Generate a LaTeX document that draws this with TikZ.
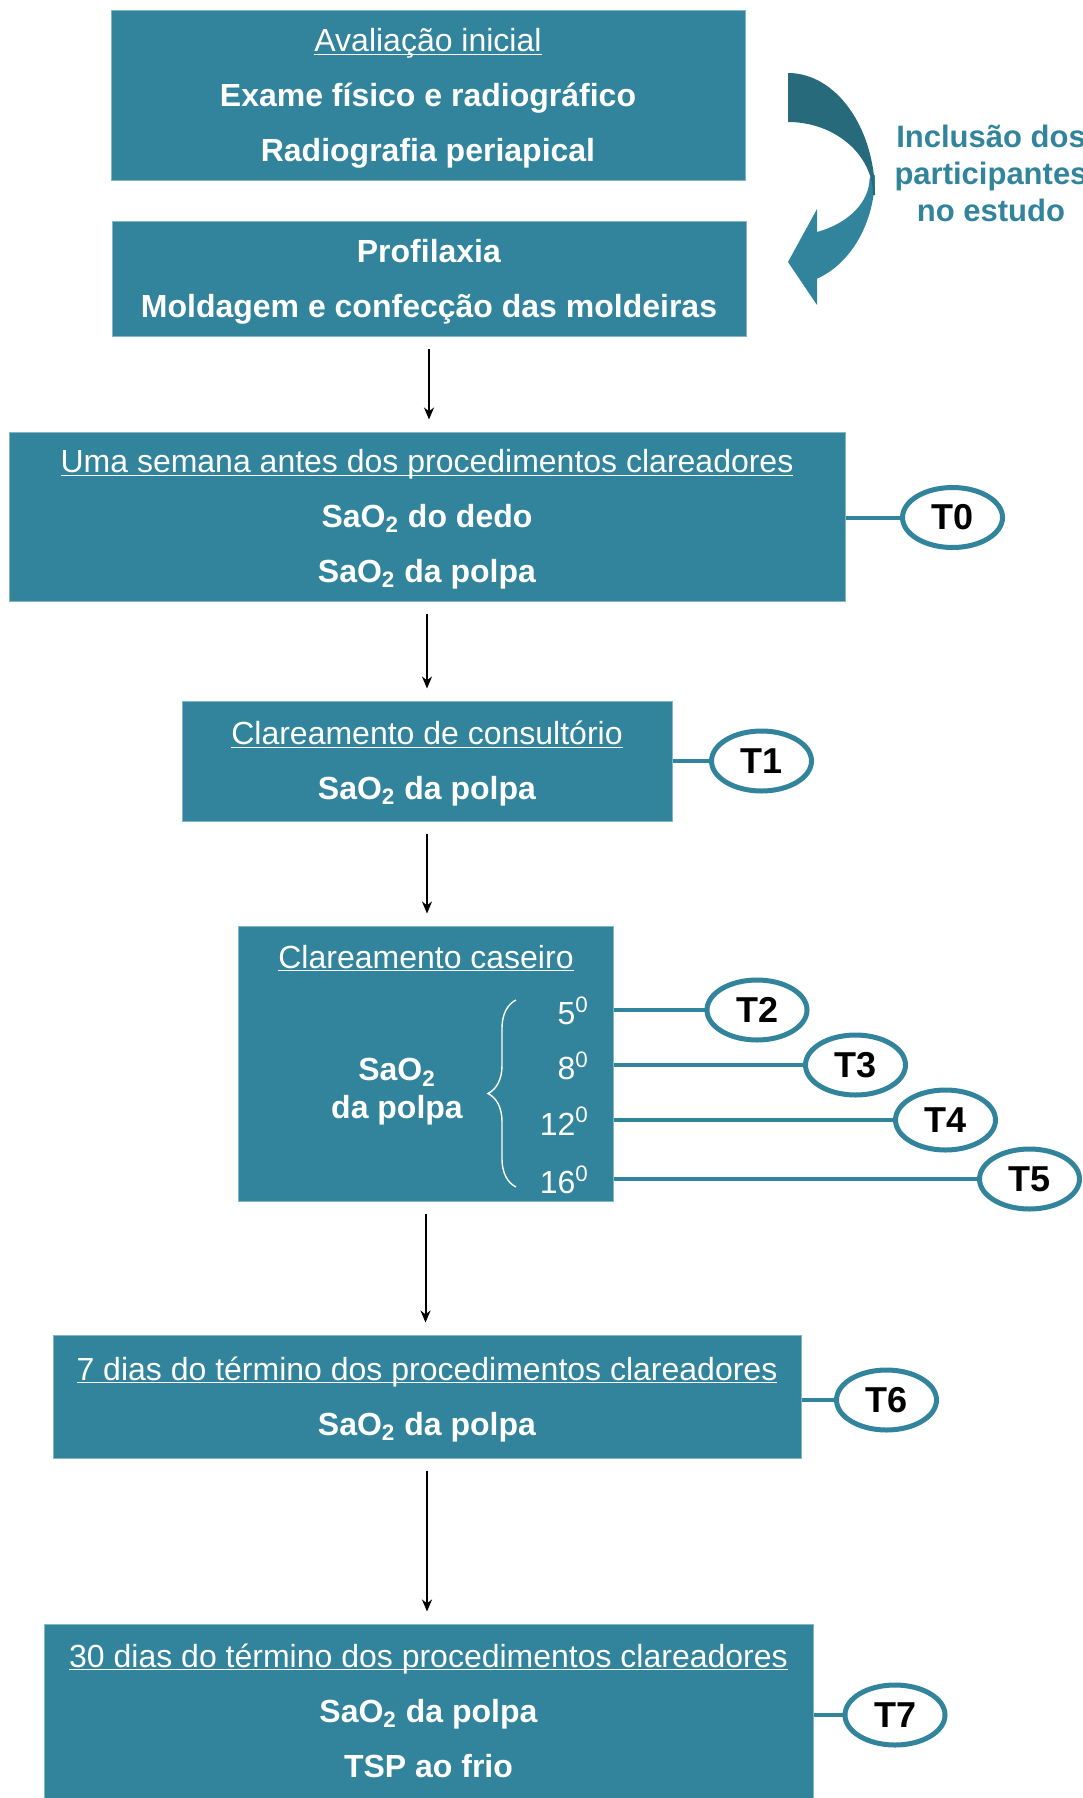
\documentclass[tikz,border=0pt]{standalone}
\usepackage{fontspec}
\setmainfont{Liberation Sans}
\usepackage{tikz}
\usetikzlibrary{shapes.geometric, arrows.meta, decorations.pathreplacing}
\definecolor{boxteal}{RGB}{49,132,155}
\definecolor{darkteal}{RGB}{39,106,124}
\newcommand{\headline}[1]{\underline{\smash{#1}\vphantom{A}}}

\begin{document}
\begin{tikzpicture}[x=0.5pt,y=-0.5pt,>={Stealth[length=6pt,width=5pt]},
    box/.style={rectangle,fill=boxteal,draw=boxteal!60!white,line width=0.5pt,inner sep=0pt,
      text=white,align=center,text depth=0pt,font=\fontsize{16}{27.5}\selectfont},
    tmark/.style={ellipse,draw=boxteal,line width=2.5pt,fill=white,minimum width=50pt,
      minimum height=30pt,inner sep=0pt,font=\bfseries\fontsize{18}{20}\selectfont},
    link/.style={draw=boxteal,line width=2pt},
    flow/.style={->,black,line width=1pt,shorten <=6pt,shorten >=6pt}]
  \useasboundingbox (0,0) rectangle (1082,1798);
  \clip (0,0) rectangle (1082,1798);

  \node[box,minimum width=317pt,minimum height=84.5pt] (aval) at (428,95.5)
    {\headline{Avaliação inicial}\\ \textbf{Exame físico e radiográfico}\\ \textbf{Radiografia periapical}};
  \node[box,minimum width=317pt,minimum height=57.5pt] (prof) at (429,278.5)
    {\textbf{Profilaxia}\\ \textbf{Moldagem e confecção das moldeiras}};
  \node[box,minimum width=418pt,minimum height=84.5pt] (sem) at (427,516.5)
    {\headline{Uma semana antes dos procedimentos clareadores}\\ \textbf{SaO\textsubscript{2} do dedo}\\ \textbf{SaO\textsubscript{2} da polpa}};
  \node[box,minimum width=245pt,minimum height=60pt] (cons) at (427,761)
    {\headline{Clareamento de consultório}\\ \textbf{SaO\textsubscript{2} da polpa}};
  \node[box,minimum width=187.5pt,minimum height=137.5pt] (case) at (425.5,1063.5) {};
  \node[box,minimum width=374pt,minimum height=61.5pt] (dias7) at (427,1396.5)
    {\headline{7 dias do término dos procedimentos clareadores}\\ \textbf{SaO\textsubscript{2} da polpa}};
  \node[box,minimum width=384.5pt,minimum height=87pt] (dias30) at (428.5,1711)
    {\headline{30 dias do término dos procedimentos clareadores}\\ \textbf{SaO\textsubscript{2} da polpa}\\ \textbf{TSP ao frio}};

  \node[text=white,font=\fontsize{16}{19}\selectfont] (caseh) at (426,959) {\headline{Clareamento caseiro}};
  \node[text=white,align=center,font=\bfseries\fontsize{16}{19}\selectfont] (polpa) at (397,1092) {SaO\textsubscript{2}\\da polpa};
  \node[text=white,anchor=east,font=\fontsize{16}{19}\selectfont] (d5) at (596,1011) {5\textsuperscript{0}};
  \node[text=white,anchor=east,font=\fontsize{16}{19}\selectfont] (d8) at (596,1066) {8\textsuperscript{0}};
  \node[text=white,anchor=east,font=\fontsize{16}{19}\selectfont] (d12) at (596,1121) {12\textsuperscript{0}};
  \node[text=white,anchor=east,font=\fontsize{16}{19}\selectfont] (d16) at (596,1180) {16\textsuperscript{0}};
  \draw[white,line width=0.7pt,decorate,decoration={brace,amplitude=14pt}] (516,1187) -- (516,1000);

  \node[tmark] (t0) at (952.5,517.5) {T0};
  \node[tmark] (t1) at (761.5,761) {T1};
  \node[tmark] (t2) at (757,1010) {T2};
  \node[tmark] (t3) at (855.5,1065) {T3};
  \node[tmark] (t4) at (945.5,1120) {T4};
  \node[tmark] (t5) at (1029.5,1179) {T5};
  \node[tmark] (t6) at (886.5,1400) {T6};
  \node[tmark] (t7) at (895,1715) {T7};

  \draw[link] (sem.east |- t0) -- (t0);
  \draw[link] (cons.east |- t1) -- (t1);
  \draw[link] (case.east |- t2) -- (t2);
  \draw[link] (case.east |- t3) -- (t3);
  \draw[link] (case.east |- t4) -- (t4);
  \draw[link] (case.east |- t5) -- (t5);
  \draw[link] (dias7.east |- t6) -- (t6);
  \draw[link] (dias30.east |- t7) -- (t7);

  \path[flow] (prof.south) edge (prof.south |- sem.north)
    (sem.south) edge (sem.south |- cons.north)
    (cons.south) edge (cons.south |- case.north)
    (case.south) edge (case.south |- dias7.north)
    (dias7.south) edge (dias7.south |- dias30.north);

  \fill[boxteal] (875,175) arc[start angle=0,end angle=70.5,x radius=87,y radius=110]
    -- (817,305) -- (788,262) -- (817,209) -- (817,232)
    arc[start angle=69,end angle=0,x radius=82,y radius=58] -- cycle;
  \fill[darkteal] (788,73) arc[start angle=270,end angle=360,x radius=87,y radius=122]
    -- (873,195) arc[start angle=0,end angle=-90,x radius=85,y radius=73] -- cycle;
  \node[text=boxteal,align=center,font=\bfseries\fontsize{15.5}{18.5}\selectfont] (incl) at (991,173)
    {Inclusão dos\\participantes\\no estudo};
\end{tikzpicture}
\end{document}
